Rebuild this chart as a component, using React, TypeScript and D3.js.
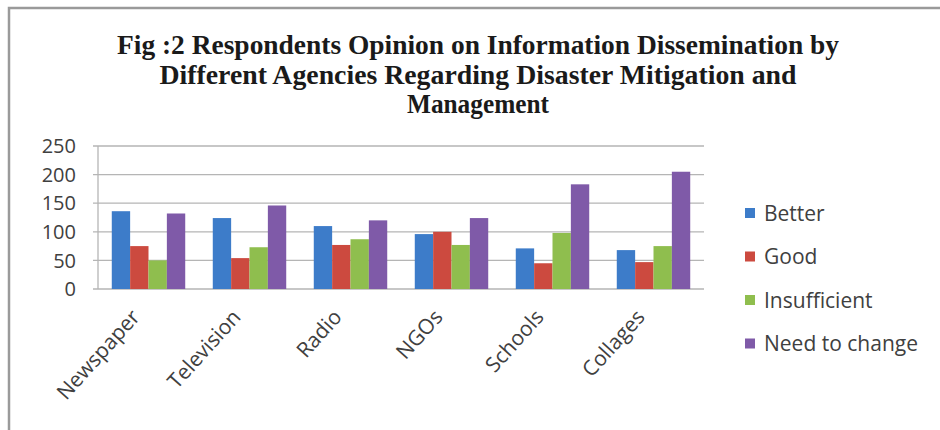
import React from "react";
import * as d3 from "d3";

const categories = ["Newspaper", "Television", "Radio", "NGOs", "Schools", "Collages"];
const seriesNames = ["Better", "Good", "Insufficient", "Need to change"];
const better = [136, 124, 110, 96, 71, 68];
const good = [75, 54, 77, 100, 45, 47];
const insufficient = [50, 73, 87, 77, 98, 75];
const needToChange = [132, 146, 120, 124, 183, 205];
const yTicks = [0, 50, 100, 150, 200, 250];
const titleLines = [
  "Fig :2 Respondents Opinion on Information Dissemination by",
  "Different Agencies Regarding Disaster Mitigation and",
  "Management",
];
const colors = ["#3D7CC9", "#CC4A3F", "#8FBE4E", "#7F5AA8"];

const seriesValues = [better, good, insufficient, needToChange];

export default function App() {
  const W = 940;
  const H = 430;
  const left = 98;
  const right = 704;
  const top = 146;
  const bottom = 289;

  const x0 = d3.scaleBand<string>().domain(categories).range([left, right]).paddingInner(0).paddingOuter(0);
  const groupW = x0.bandwidth() * (4 / 5.5);
  const x1 = d3.scaleBand<string>().domain(seriesNames).range([0, groupW]);
  const y = d3.scaleLinear().domain([0, 250]).range([bottom, top]);

  const titleLen = [722, 637, 142];
  const titleY = [54, 84, 113];
  const cx = 478;

  const labelColor = "#404040";
  const font = "'Open Sans', Lato, sans-serif";

  return (
    <svg width={W} height={H} style={{ position: "absolute", left: 0, top: 0, background: "#fff" }}>
      <rect x={0} y={0} width={W} height={H} fill="#fff" />
      <rect x={9} y={8} width={W + 10} height={H + 10} fill="none" stroke="#9a9a9a" strokeWidth={2.5} />
      {titleLines.map((t, i) => (
        <text
          key={i}
          x={cx}
          y={titleY[i]}
          textAnchor="middle"
          fontFamily="'Liberation Serif', 'Times New Roman', serif"
          fontWeight="bold"
          fontSize={27}
          fill="#1a1a1a"
          textLength={titleLen[i]}
          lengthAdjust="spacingAndGlyphs"
        >
          {t}
        </text>
      ))}
      {yTicks.map((t) => (
        <g key={t}>
          <line x1={left - 5} x2={right} y1={y(t)} y2={y(t)} stroke="#b5b5b5" strokeWidth={1.3} />
          <text
            x={76}
            y={y(t)}
            dy="0.36em"
            textAnchor="end"
            fontFamily={font}
            fontSize={20}
            fill={labelColor}
          >
            {t}
          </text>
        </g>
      ))}
      <line x1={left} x2={left} y1={top} y2={bottom} stroke="#b5b5b5" strokeWidth={1.3} />
      {categories.map((c, ci) => {
        const gx = (x0(c) as number) + (x0.bandwidth() - groupW) / 2;
        return (
          <g key={c}>
            {seriesNames.map((s, si) => {
              const v = seriesValues[si][ci];
              return (
                <rect
                  key={s}
                  x={gx + (x1(s) as number)}
                  y={y(v)}
                  width={x1.bandwidth()}
                  height={bottom - y(v)}
                  fill={colors[si]}
                />
              );
            })}
          </g>
        );
      })}
      {categories.map((c) => {
        const px = (x0(c) as number) + x0.bandwidth() / 2 - 13;
        const py = 313;
        return (
          <text
            key={c}
            transform={`translate(${px},${py}) rotate(-48)`}
            textAnchor="end"
            dy="0.35em"
            fontFamily={font}
            fontSize={21}
            fill={labelColor}
          >
            {c}
          </text>
        );
      })}
      {seriesNames.map((s, i) => {
        const ly = 213 + i * 43.5;
        return (
          <g key={s}>
            <rect x={745} y={ly - 5} width={10} height={10} fill={colors[i]} />
            <text x={764} y={ly} dy="0.36em" fontFamily={font} fontSize={21} fill={labelColor}>
              {s}
            </text>
          </g>
        );
      })}
    </svg>
  );
}
